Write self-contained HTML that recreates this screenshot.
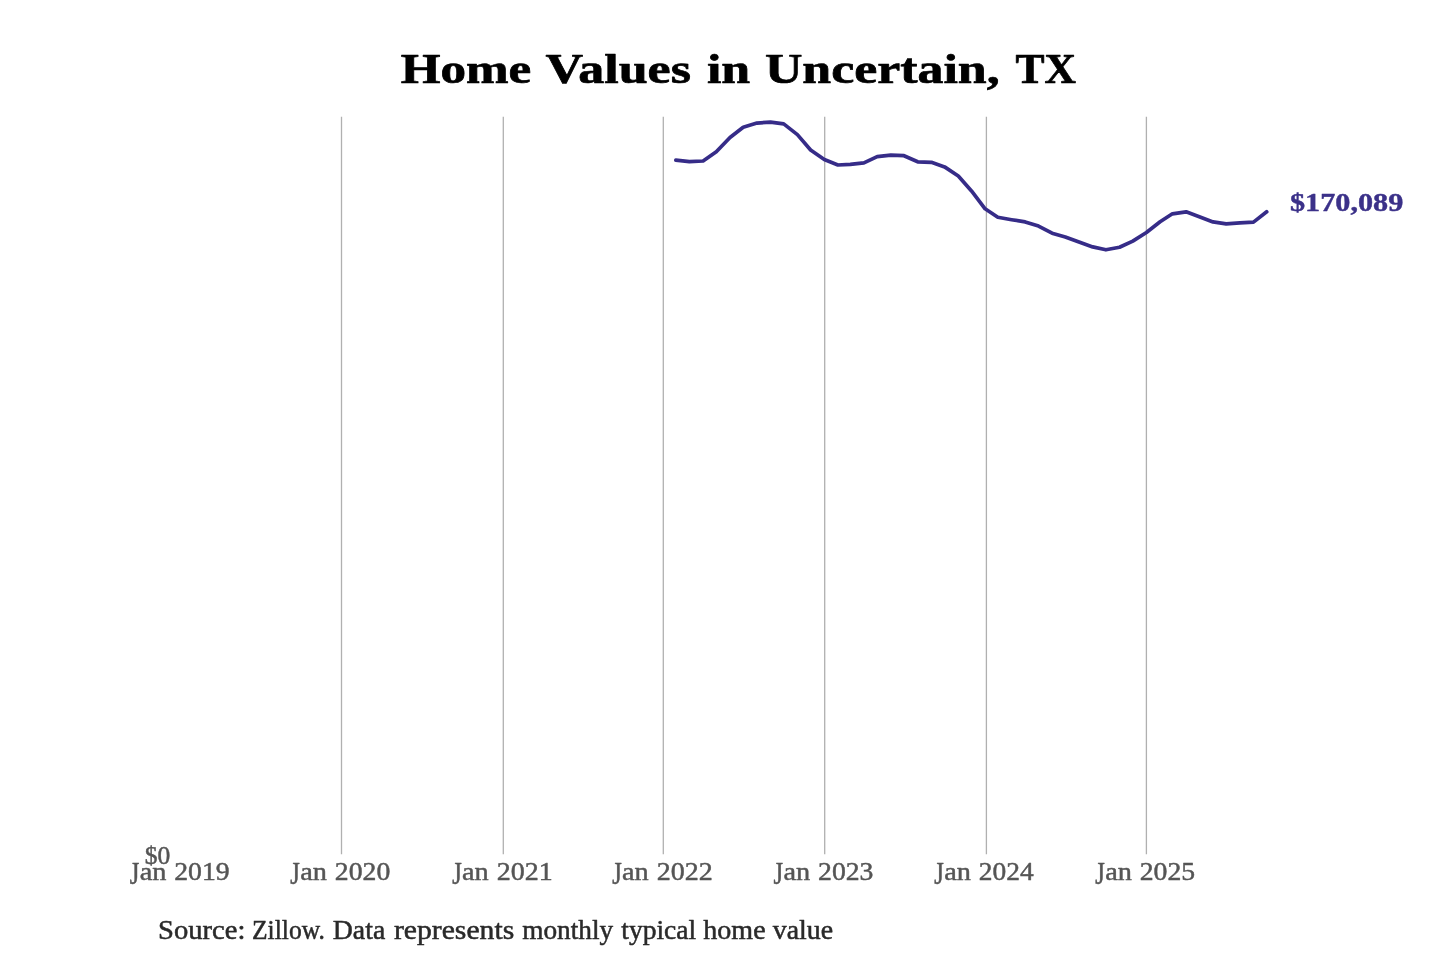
<!DOCTYPE html>
<html lang="en">
<head>
<meta charset="utf-8">
<title>Home Values in Uncertain, TX</title>
<style>
  html, body { margin: 0; padding: 0; background: #ffffff; }
  body { width: 1440px; height: 960px; overflow: hidden; font-family: "Liberation Serif", serif; }
  svg { display: block; will-change: transform; }
  text { font-family: "Liberation Serif", serif; }
  .title { font-size: 43.0px; font-weight: bold; fill: #000000; stroke: #000000; stroke-width: 0.7; stroke-linejoin: round; }
  .tick { font-size: 24.6px; font-weight: normal; fill: #555555; stroke: #555555; stroke-width: 0.45; stroke-linejoin: round; }
  .ytick { font-size: 24.6px; font-weight: normal; fill: #555555; stroke: #555555; stroke-width: 0.45; stroke-linejoin: round; }
  .src { font-size: 26.6px; font-weight: normal; fill: #2a2a2a; stroke: #2a2a2a; stroke-width: 0.5; stroke-linejoin: round; }
  .val { font-size: 24.6px; font-weight: bold; fill: #3b3189; stroke: #3b3189; stroke-width: 0.4; stroke-linejoin: round; }
  .grid line { stroke: #b0b0b0; stroke-width: 1.3; }
  .series { fill: none; stroke: #362c88; stroke-width: 3.7; stroke-linejoin: round; stroke-linecap: round; }
</style>
</head>
<body>
<svg width="1440" height="960" viewBox="0 0 1440 960" role="img" aria-label="Home Values in Uncertain, TX">
  <rect x="0" y="0" width="1440" height="960" fill="#ffffff"/>
  <!-- vertical year gridlines -->
  <g class="grid">
    <line x1="341.5" y1="116.8" x2="341.5" y2="854.2"/>
    <line x1="503.3" y1="116.8" x2="503.3" y2="854.2"/>
    <line x1="663.3" y1="116.8" x2="663.3" y2="854.2"/>
    <line x1="824.7" y1="116.8" x2="824.7" y2="854.2"/>
    <line x1="986.4" y1="116.8" x2="986.4" y2="854.2"/>
    <line x1="1146.4" y1="116.8" x2="1146.4" y2="854.2"/>
  </g>
  <!-- monthly typical home value, Jan 2022 - Sep 2025 -->
  <polyline class="series" points="675.8,160.2 689.4,161.6 703.1,161.0 716.3,151.8 730.0,137.5 743.2,127.2 756.9,123.1 770.5,122.1 783.7,123.9 797.4,134.6 810.6,150.0 824.3,159.5 837.9,165.0 850.3,164.4 863.9,162.9 877.2,156.6 890.8,155.1 904.0,155.7 917.7,161.8 931.4,162.3 944.6,166.9 958.3,176.0 971.5,190.9 985.1,208.8 997.8,217.3 1011.6,219.7 1025.2,221.9 1038.5,226.1 1052.1,233.2 1065.3,237.0 1079.0,242.1 1092.7,246.9 1105.9,249.8 1119.5,247.3 1132.8,241.1 1146.4,232.5 1160.1,221.8 1172.4,213.8 1186.1,211.8 1199.3,216.8 1213.0,221.9 1226.2,223.9 1239.9,222.8 1253.5,222.1 1266.7,211.8"/>
  <!-- title -->
  <text class="title" transform="translate(400.71 82.80) scale(1.1889 1.0000)">Home</text>
  <text class="title" transform="translate(545.50 82.80) scale(1.2092 1.0000)">Values</text>
  <text class="title" transform="translate(706.90 82.80) scale(1.2057 1.0000)">in</text>
  <text class="title" transform="translate(764.90 82.80) scale(1.2062 1.0000)">Uncertain,</text>
  <text class="title" transform="translate(1015.55 82.80) scale(1.0127 1.0000)">TX</text>
  <!-- latest value label -->
  <text class="val" transform="translate(1289.98 210.80) scale(1.2287 1.0000)">$170,089</text>
  <!-- y axis -->
  <text class="ytick" transform="translate(144.82 863.70) scale(1.0387 1.0000)">$0</text>
  <!-- x axis -->
  <text class="tick" transform="translate(129.75 883.64) scale(1.0000 1.3134)">J</text>
  <text class="tick" transform="translate(139.64 879.70) scale(1.1506 1.0000)">an</text>
  <text class="tick" transform="translate(174.25 879.70) scale(1.1267 1.0000)">2019</text>
  <text class="tick" transform="translate(290.35 883.64) scale(1.0000 1.3134)">J</text>
  <text class="tick" transform="translate(300.24 879.70) scale(1.1506 1.0000)">an</text>
  <text class="tick" transform="translate(334.85 879.70) scale(1.1267 1.0000)">2020</text>
  <text class="tick" transform="translate(452.15 883.64) scale(1.0000 1.3134)">J</text>
  <text class="tick" transform="translate(462.04 879.70) scale(1.1506 1.0000)">an</text>
  <text class="tick" transform="translate(496.65 879.70) scale(1.1386 1.0000)">2021</text>
  <text class="tick" transform="translate(612.15 883.64) scale(1.0000 1.3134)">J</text>
  <text class="tick" transform="translate(622.04 879.70) scale(1.1506 1.0000)">an</text>
  <text class="tick" transform="translate(656.65 879.70) scale(1.1386 1.0000)">2022</text>
  <text class="tick" transform="translate(773.55 883.64) scale(1.0000 1.3134)">J</text>
  <text class="tick" transform="translate(783.44 879.70) scale(1.1506 1.0000)">an</text>
  <text class="tick" transform="translate(818.05 879.70) scale(1.1267 1.0000)">2023</text>
  <text class="tick" transform="translate(934.35 883.64) scale(1.0000 1.3134)">J</text>
  <text class="tick" transform="translate(944.24 879.70) scale(1.1506 1.0000)">an</text>
  <text class="tick" transform="translate(978.86 879.70) scale(1.1150 1.0000)">2024</text>
  <text class="tick" transform="translate(1095.25 883.64) scale(1.0000 1.3134)">J</text>
  <text class="tick" transform="translate(1105.14 879.70) scale(1.1506 1.0000)">an</text>
  <text class="tick" transform="translate(1139.75 879.70) scale(1.1267 1.0000)">2025</text>
  <!-- source note -->
  <text class="src" transform="translate(158.09 939.20) scale(1.0752 1.0000)">Source:</text>
  <text class="src" transform="translate(252.04 939.20) scale(0.9597 1.0000)">Zillow.</text>
  <text class="src" transform="translate(332.78 939.20) scale(1.0444 1.0000)">Data</text>
  <text class="src" transform="translate(393.92 939.20) scale(1.1157 1.0000)">represents</text>
  <text class="src" transform="translate(522.24 939.20) scale(1.0260 1.0000)">monthly</text>
  <text class="src" transform="translate(621.30 939.20) scale(1.0347 1.0000)">typical</text>
  <text class="src" transform="translate(703.30 939.20) scale(1.0547 1.0000)">home</text>
  <text class="src" transform="translate(772.76 939.20) scale(1.0480 1.0000)">value</text>
</svg>
</body>
</html>
